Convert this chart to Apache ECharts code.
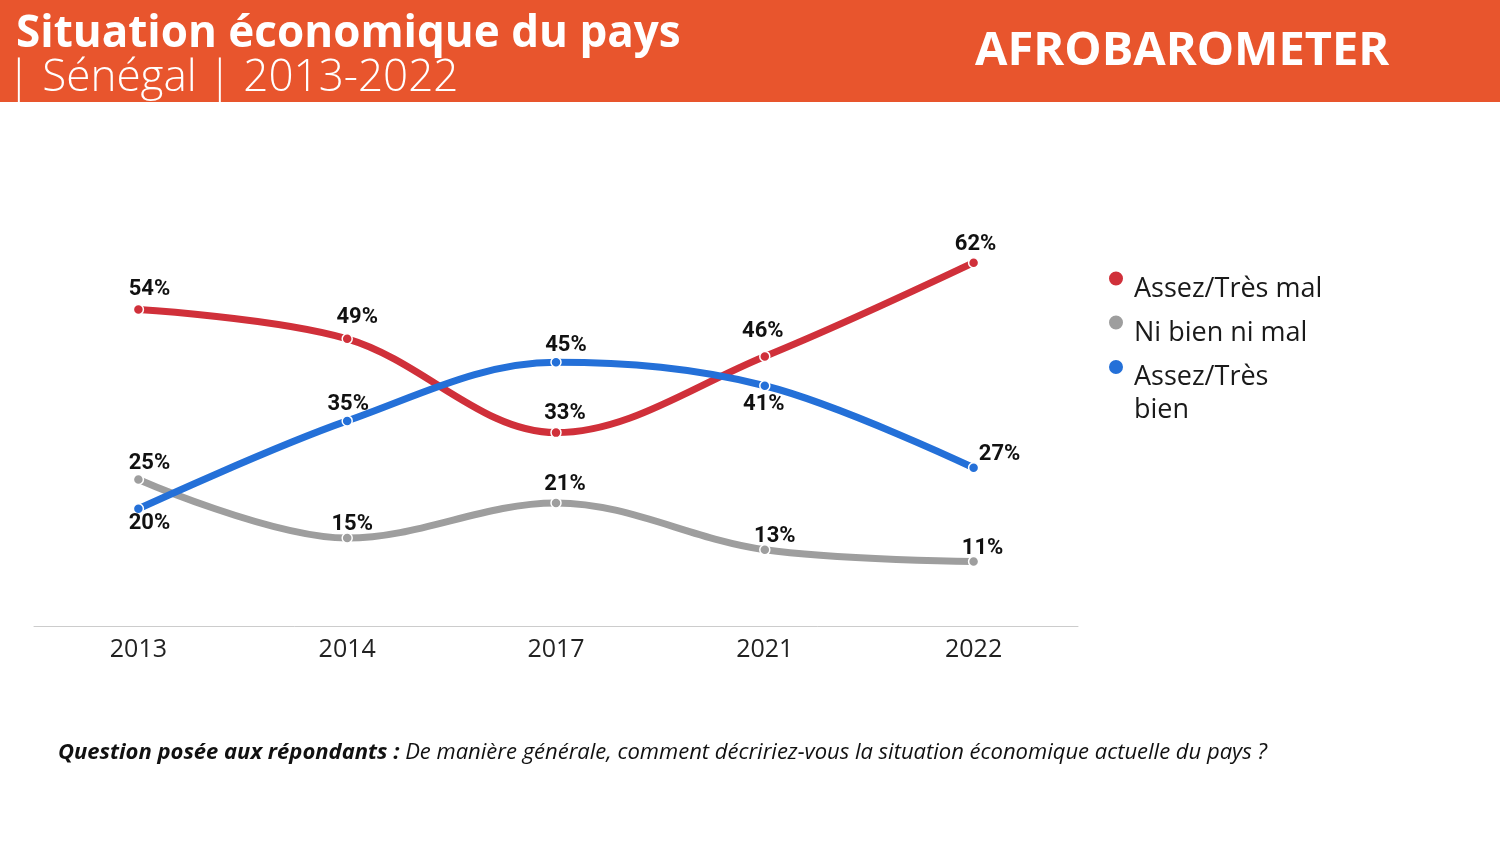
<!DOCTYPE html>
<html>
<head>
<meta charset="utf-8">
<script src="https://cdn.jsdelivr.net/npm/echarts@6/dist/echarts.min.js"></script>
<style>
  html, body { margin: 0; padding: 0; background: #fff; }
  #chart { width: 1500px; height: 844px; }
</style>
</head>
<body>
<div id="chart"></div>
<script>
// données
const years = ['2013', '2014', '2017', '2021', '2022'];
const assezTresMal = [54, 49, 33, 46, 62];
const niBienNiMal = [25, 15, 21, 13, 11];
const assezTresBien = [20, 35, 45, 41, 27];
const seriesNames = ['Assez/Très mal', 'Ni bien ni mal', 'Assez/Très bien'];

const colors = ['#D0303A', '#9E9E9E', '#2470D8'];

// placement des étiquettes par point : [position, dx, dy]
const labelTweaks = [
  [['top', 11, 1], ['top', 10, -1], ['top', 9, 2], ['top', -2, -4], ['top', 2, 3]],
  [['top', 11, 5], ['top', 5, 7], ['top', 9, 2], ['top', 10, 7], ['top', 9, 8]],
  [['bottom', 11, -6], ['top', 1, 4], ['top', 10, 4], ['bottom', -1, -2], ['top', 26, 7]]
];

function buildData(values, tweaks) {
  return values.map(function (v, i) {
    const t = tweaks[i];
    return { value: v, label: { position: t[0], offset: [t[1], t[2]] } };
  });
}

function lineSeries(name, values, idx) {
  return {
    name: name,
    type: 'line',
    smooth: 0.35,
    data: buildData(values, labelTweaks[idx]),
    symbol: 'circle',
    symbolSize: 10,
    lineStyle: { width: 7, color: colors[idx] },
    itemStyle: { color: colors[idx], borderColor: '#fff', borderWidth: 1.5 },
    label: {
      show: true,
      distance: 4,
      formatter: '{c}%',
      fontFamily: 'Roboto',
      fontWeight: 'bold',
      fontSize: 22,
      color: '#111'
    },
    emphasis: { disabled: true },
    animation: false
  };
}

// légende : une par entrée pour caler chaque ligne
function legendItem(name, top, spacer) {
  return {
    orient: 'vertical',
    left: 1107,
    top: top,
    padding: 0,
    icon: 'circle',
    itemWidth: 26,
    itemHeight: 16,
    selectedMode: false,
    data: [name],
    formatter: function (n) {
      const txt = n === 'Assez/Très bien' ? '{t|Assez/Très}\n{t|bien}' : '{t|' + n + '}';
      return '{s| }\n' + txt;
    },
    textStyle: {
      rich: {
        s: { fontSize: 10, lineHeight: spacer },
        t: { fontFamily: 'Open Sans', fontSize: 27, color: '#1a1a1a', lineHeight: 33 }
      }
    }
  };
}

const chart = echarts.init(document.getElementById('chart'));
chart.setOption({
  backgroundColor: '#fff',
  color: colors,
  title: [
    {
      text: 'Situation économique du pays',
      left: 11,
      top: 7,
      textStyle: { color: '#fff', fontFamily: 'Open Sans', fontWeight: 'bold', fontSize: 44 }
    },
    {
      text: '| Sénégal | 2013-2022',
      left: 2,
      top: 51,
      textStyle: { color: '#fff', fontFamily: 'Open Sans', fontWeight: 300, fontSize: 44 }
    }
  ],
  graphic: [
    {
      type: 'rect', z: -1, left: 0, top: 0,
      shape: { width: 1500, height: 102 },
      style: { fill: '#E8552D' }
    },
    {
      type: 'text', left: 975, top: 28,
      style: {
        text: 'AFROBAROMETER', fill: '#fff',
        font: 'bold 47px "Open Sans"'
      }
    },
    {
      type: 'text', left: 58, top: 742,
      style: {
        text: '{b|Question posée aux répondants :}{n| De manière générale, comment décririez-vous la situation économique actuelle du pays ?}',
        rich: {
          b: { fontFamily: 'Open Sans', fontStyle: 'italic', fontWeight: 'bold', fontSize: 22, fill: '#111' },
          n: { fontFamily: 'Open Sans', fontStyle: 'italic', fontSize: 22, fill: '#111' }
        }
      }
    }
  ],
  legend: [
    legendItem(seriesNames[0], 257, 22),
    legendItem(seriesNames[1], 301, 22),
    legendItem(seriesNames[2], 329, 54)
  ],
  grid: { left: 34, right: 422, top: 40, bottom: 218 },
  xAxis: {
    type: 'category',
    data: years,
    boundaryGap: true,
    axisLine: { lineStyle: { color: '#cccccc', width: 1 } },
    axisTick: { show: false },
    axisLabel: { color: '#222', fontFamily: 'Open Sans', fontSize: 25, margin: 11 }
  },
  yAxis: {
    type: 'value',
    min: 0,
    max: 100,
    show: false
  },
  series: [
    lineSeries(seriesNames[0], assezTresMal, 0),
    lineSeries(seriesNames[1], niBienNiMal, 1),
    lineSeries(seriesNames[2], assezTresBien, 2)
  ]
});
</script>
</body>
</html>
